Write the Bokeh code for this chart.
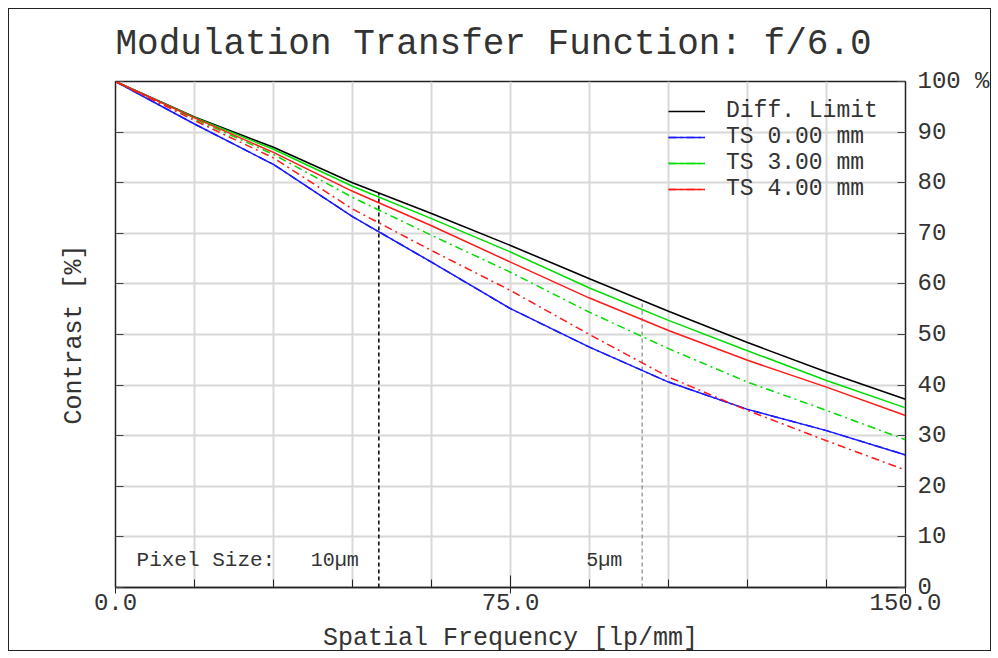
from bokeh.plotting import figure
from bokeh.models import (FixedTicker, LinearAxis, Legend, LegendItem, Label,
                          ColumnDataSource, Range1d, InlineStyleSheet)
from bokeh.embed import file_html
from bokeh.resources import INLINE
from bokeh.core.properties import value

# ---- data ----
freq = [0, 15, 30, 45, 60, 75, 90, 105, 120, 135, 150]
diff_limit = [100, 93.0, 87.0, 80.0, 73.9, 67.6, 61.0, 54.6, 48.4, 42.6, 37.2]
ts0_tan = [100, 91.6, 83.6, 73.3, 64.3, 55.1, 47.5, 40.6, 35.2, 31.0, 26.2]
ts0_sag = [100, 91.6, 83.6, 73.3, 64.3, 55.1, 47.5, 40.6, 35.2, 31.0, 26.2]
ts3_tan = [100, 92.6, 85.6, 77.1, 69.6, 62.3, 54.4, 47.2, 40.6, 35.0, 29.2]
ts3_sag = [100, 92.9, 86.6, 79.3, 72.9, 66.3, 59.2, 52.8, 46.8, 40.9, 35.5]
ts4_tan = [100, 92.3, 84.9, 74.8, 66.6, 58.7, 50.0, 41.6, 35.0, 29.0, 23.2]
ts4_sag = [100, 92.8, 86.0, 78.3, 71.5, 64.3, 57.2, 50.8, 44.9, 39.6, 34.0]

title_text = "Modulation Transfer Function: f/6.0"
legend_labels = ["Diff. Limit", "TS 0.00 mm", "TS 3.00 mm", "TS 4.00 mm"]

pixel_freq = [50, 100]
pixel_top = [78.0, 56.5]
pixel_labels = ["10µm", "5µm"]

x_major = [0, 75, 150]
x_minor = [15, 30, 45, 60, 90, 105, 120, 135]
x_grid = [0, 15, 30, 45, 60, 75, 90, 105, 120, 135, 150]
y_ticks = [0, 10, 20, 30, 40, 50, 60, 70, 80, 90, 100]
x_labels = {0: "0.0", 75: "75.0", 150: "150.0"}
y_labels = {100: "100 %"}

FONT = "Liberation Mono"
TXT = "#333333"

border_css = InlineStyleSheet(css="""
:host { position: relative; }
:host::after {
  content: ""; position: absolute; left: 8px; top: 8px; right: 7px; bottom: 7px;
  border: 1.5px solid #222222; pointer-events: none; z-index: 1000;
}
""")

p = figure(width=998, height=658, x_range=Range1d(0, 150), y_range=Range1d(0, 100),
           output_backend="svg", toolbar_location=None,
           min_border_left=115, min_border_right=93, min_border_top=81,
           min_border_bottom=71, title=title_text)
p.stylesheets = [border_css]
p.background_fill_color = "white"
p.border_fill_color = "white"
p.outline_line_color = "#222222"
p.outline_line_width = 1.5

p.title.text_font = FONT
p.title.text_font_size = "36px"
p.title.text_font_style = "normal"
p.title.text_color = TXT
p.title.align = "left"
p.title.standoff = 34

# grids
p.xgrid.ticker = FixedTicker(ticks=x_grid)
p.ygrid.ticker = FixedTicker(ticks=y_ticks)
for g in (p.xgrid, p.ygrid):
    g.grid_line_color = "#d8d8d8"
    g.grid_line_width = 2

# bottom axis
xa = p.xaxis[0]
xa.ticker = FixedTicker(ticks=x_major, minor_ticks=x_minor)
xa.major_label_overrides = x_labels
xa.axis_label = "Spatial Frequency [lp/mm]"
xa.axis_label_text_font = FONT
xa.axis_label_text_font_size = "25px"
xa.axis_label_text_font_style = "normal"
xa.axis_label_text_color = TXT
xa.axis_label_standoff = 11
xa.major_label_text_font = FONT
xa.major_label_text_font_size = "24px"
xa.major_label_text_color = TXT
xa.major_label_standoff = 0
xa.major_tick_in = 12
xa.major_tick_out = 6
xa.minor_tick_in = 8
xa.minor_tick_out = 0
xa.axis_line_color = "#222222"
xa.major_tick_line_color = "#222222"
xa.minor_tick_line_color = "#222222"
xa.axis_line_width = 1.5

# left axis: inner ticks only (as minor ticks, no labels) + axis title
ya = p.yaxis[0]
ya.ticker = FixedTicker(ticks=[], minor_ticks=y_ticks)
ya.major_tick_line_color = None
ya.minor_tick_in = 8
ya.minor_tick_out = 0
ya.minor_tick_line_color = "#444444"
ya.minor_tick_line_width = 1.2
ya.axis_label = "Contrast [%]"
ya.axis_label_text_font = FONT
ya.axis_label_text_font_size = "25px"
ya.axis_label_text_font_style = "normal"
ya.axis_label_text_color = TXT
ya.axis_label_standoff = 27
ya.axis_line_color = "#222222"

# right axis with labels
ra = LinearAxis(ticker=FixedTicker(ticks=y_ticks, minor_ticks=[]))
ra.major_label_overrides = y_labels
ra.major_label_text_font = FONT
ra.major_label_text_font_size = "24px"
ra.major_label_text_color = TXT
ra.major_label_standoff = 12
ra.major_tick_in = 8
ra.major_tick_out = 0
ra.minor_tick_line_color = None
ra.axis_line_color = "#222222"
ra.major_tick_line_color = "#444444"
p.add_layout(ra, "right")

# pixel size markers
src_px = ColumnDataSource(dict(x=pixel_freq, top=pixel_top, label=pixel_labels,
                               base=[0, 0], color=["#111111", "#888888"],
                               width=[1.6, 1.2]))
p.segment(x0="x", y0="base", x1="x", y1="top", source=src_px,
          line_color="color", line_width="width", line_dash="4 3")
p.text(x="x", y=5.4, text="label", source=src_px, text_align="right",
       text_baseline="middle", x_offset=-20, text_font=value(FONT),
       text_font_size="20px", text_color=TXT)
p.add_layout(Label(x=4, y=5.4, text="Pixel Size:", text_font=FONT,
                   text_font_size="21px", text_color=TXT, text_baseline="middle"))

DD = "8 4 2 4"
r_diff = p.line(freq, diff_limit, line_color="black", line_width=1.6)
r0t = p.line(freq, ts0_tan, line_color="#1a1aff", line_width=1.5, line_dash=DD)
r0s = p.line(freq, ts0_sag, line_color="#1a1aff", line_width=1.5)
r3t = p.line(freq, ts3_tan, line_color="#00dd00", line_width=1.5, line_dash=DD)
r3s = p.line(freq, ts3_sag, line_color="#00dd00", line_width=1.5)
r4t = p.line(freq, ts4_tan, line_color="#ff1a1a", line_width=1.5, line_dash=DD)
r4s = p.line(freq, ts4_sag, line_color="#ff1a1a", line_width=1.5)

# one small legend per row so the rows sit close together as in the reference
legend_renderers = [[r_diff], [r0t, r0s], [r3t, r3s], [r4t, r4s]]
row_y = [463, 437, 411, 385]   # legend box positions in frame pixels (layout)
for lab, rends, ly in zip(legend_labels, legend_renderers, row_y):
    lg = Legend(items=[LegendItem(label=lab, renderers=rends)], location=(553, ly))
    lg.label_text_font = FONT
    lg.label_text_font_size = "23px"
    lg.label_text_color = TXT
    lg.glyph_width = 37
    lg.glyph_height = 18
    lg.label_height = 18
    lg.label_standoff = 21
    lg.padding = 0
    lg.margin = 0
    lg.border_line_color = None
    lg.background_fill_alpha = 0
    p.add_layout(lg)

open("out.html", "w").write(file_html(p, INLINE))
